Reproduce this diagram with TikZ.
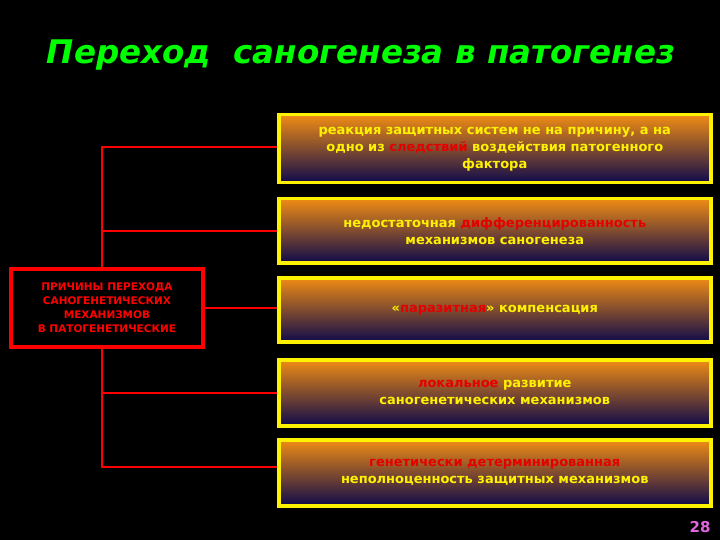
\documentclass[tikz,border=0pt]{standalone}
\usepackage{fontspec}
\setmainfont{DejaVu Sans}
\definecolor{midp}{RGB}{125,20,95}
\definecolor{botn}{RGB}{15,10,75}
\definecolor{topo}{RGB}{240,140,20}
\begin{document}
\begin{tikzpicture}[x=1pt,y=-1pt,
  rbox/.style={draw=yellow,line width=3.5pt,top color=topo,middle color=midp,bottom color=botn,shading angle=0,minimum width=432pt,anchor=north west,align=center,text=yellow,font=\bfseries\fontsize{13}{17}\selectfont,inner sep=2pt},
  conn/.style={draw=red,line width=2pt}]
\fill[black] (0,0) rectangle (720,540);
\useasboundingbox (0,0) rectangle (720,540);
\node (title) at (361,55) {\color{green}\bfseries\itshape\fontsize{32.5}{36}\selectfont Переход\ \ саногенеза в патогенез};
\newcommand{\hl}[1]{\textcolor{red!90!black}{#1}}
\node[rbox,minimum height=68pt] (b1) at (277,113) {реакция защитных систем не на причину, а на\\одно из \hl{следствий} воздействия патогенного\\фактора};
\node[rbox,minimum height=64pt] (b2) at (277,197) {недостаточная \hl{дифференцированность}\\механизмов саногенеза};
\node[rbox,minimum height=64pt] (b3) at (277,276) {«\hl{паразитная}» компенсация};
\node[rbox,minimum height=66pt] (b4) at (277,358) {\hl{локальное} развитие\\саногенетических механизмов};
\node[rbox,minimum height=66pt] (b5) at (277,438) {\hl{генетически детерминированная}\\неполноценность защитных механизмов};
\node[draw=red,line width=4pt,fill=black,minimum width=192pt,minimum height=78pt,align=center,text=red,font=\bfseries\fontsize{10.5}{14}\selectfont,inner sep=1pt] (L) at (107,308) {ПРИЧИНЫ ПЕРЕХОДА\\САНОГЕНЕТИЧЕСКИХ\\МЕХАНИЗМОВ\\В ПАТОГЕНЕТИЧЕСКИЕ};
\coordinate (t) at (102,147);
\coordinate (bt) at (102,467);
\draw[conn] (b1.west |- t) -- (t) -- (L.north -| t);
\draw[conn] (L.south -| t) -- (bt) -- (b5.west |- bt);
\draw[conn] (b2.west) -- (b2.west -| t);
\draw[conn] (b4.west) -- (b4.west -| t);
\draw[conn] (L.east) -- (L.east -| b3.west);
\node[text=violet!40!magenta!60!white,font=\bfseries\fontsize{15}{17}\selectfont] (pg) at (700,527) {28};
\end{tikzpicture}
\end{document}
